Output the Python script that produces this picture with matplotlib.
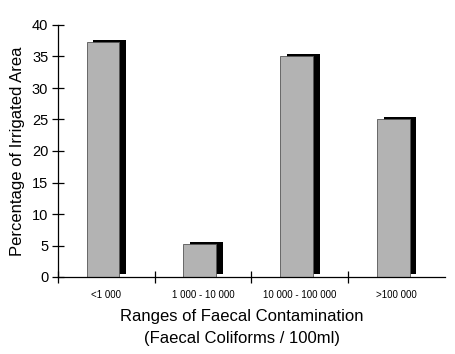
import matplotlib.pyplot as plt
import numpy as np

plt.rcParams['font.family'] = ['Liberation Sans', 'DejaVu Sans']

categories = ['<1 000', '1 000 - 10 000', '10 000 - 100 000', '>100 000']
values = [37.3, 5.2, 35.0, 25.0]

fig = plt.figure(figsize=(4.56, 3.54), dpi=100)
ax = fig.add_axes([58 / 456, 77 / 354, 387 / 456, 252 / 354])

x = np.arange(len(categories)) + 0.465
w = 0.34
# black shadow behind each bar
ax.bar(x + 0.07, [v + 0.35 - 0.4 for v in values], w, bottom=0.4,
       color='black', zorder=1)
ax.bar(x, values, w, color='#b3b3b3', edgecolor='#555555', linewidth=0.6,
       zorder=2)

ax.set_xlim(0, 4)
ax.set_ylim(0, 40)
ax.set_yticks(range(0, 41, 5))
ax.set_xticks([0, 1, 2, 3])
ax.set_xticklabels([])
ax.set_xticks(x + 0.035, minor=True)
ax.set_xticklabels(categories, minor=True, fontsize=7)
ax.tick_params(axis='x', which='minor', length=0, pad=9)
ax.tick_params(axis='x', which='major', direction='inout', length=9, width=0.9)
ax.tick_params(axis='y', direction='inout', length=8, width=0.9,
               labelsize=10.5, pad=3)

for s in ['top', 'right']:
    ax.spines[s].set_visible(False)
ax.spines['left'].set_linewidth(0.9)
ax.spines['bottom'].set_linewidth(0.9)

ax.set_ylabel('Percentage of Irrigated Area', fontsize=12, labelpad=5)
ax.set_xlabel('Ranges of Faecal Contamination\n(Faecal Coliforms / 100ml)',
              fontsize=12, linespacing=1.6)
ax.xaxis.set_label_coords(0.475, -0.125)
ax.xaxis.label.set_va('top')

fig.savefig('out.png', dpi=100)
